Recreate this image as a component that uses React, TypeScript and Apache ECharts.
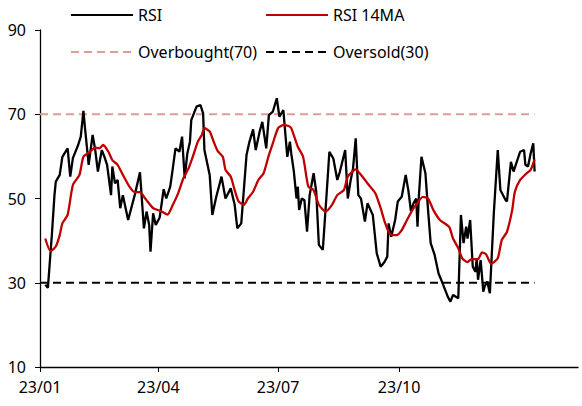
import React, { useEffect, useRef } from "react";
import * as echarts from "echarts";

// x values are calendar-day offsets from 2023-01-01
const tickDays = [0, 90, 181, 273];
const tickLabels = ["23/01", "23/04", "23/07", "23/10"];

const rsiDays = [
  4, 6, 9, 11, 12, 15, 17, 21, 23, 25, 29, 31, 33, 34, 37, 40, 42, 44, 47, 49,
  51, 52, 54, 55, 57, 59, 61, 63, 67, 72, 76, 79, 81, 83, 84, 86, 88, 91, 94, 96,
  99, 101, 103, 106, 108, 110, 112, 114, 115, 119, 122, 124, 125, 129, 131, 134,
  138, 141, 145, 148, 150, 153, 157, 159, 162, 164, 167, 169, 172, 174, 177, 180,
  182, 185, 188, 190, 191, 193, 195, 196, 197, 199, 201, 203, 205, 208, 210, 212, 215,
  218, 220, 223, 226, 228, 232, 234, 236, 238, 240, 242, 244, 247, 249, 253, 256,
  259, 262, 264, 265, 267, 270, 272, 275, 278, 280, 282, 284, 286, 287, 288, 290,
  293, 295, 297, 300, 303, 305, 308, 310, 312, 314, 318, 320, 322, 324, 325, 327,
  329, 331, 332, 333, 335, 337, 338, 340, 342, 345, 348, 350, 354, 355, 358, 360,
  362, 365, 368, 369, 371, 373, 375, 376,
];
const rsiValues = [
  29.5, 28.8, 41.3, 50.8, 54, 55.6, 59.9, 61.9, 55.2, 59.6, 62.7, 64.7, 70.8, 67.4,
  58, 65.1, 61.5, 56.4, 61.5, 59.9, 58, 55.6, 50.8, 57.6, 53.6, 54.4, 47.7, 50.8,
  44.9, 50.8, 56.2, 42.9, 46.9, 43.7, 37.4, 46.5, 43.7, 45.5, 52.2, 50, 52.8, 57.2,
  61.9, 61.1, 64.7, 54.8, 60.7, 63.5, 68.6, 71.8, 72.2, 70.2, 61.5, 55.6, 46.1,
  50.4, 55.2, 50, 52.4, 48.5, 42.9, 44.1, 60.3, 63.2, 66.4, 61.5, 65.9, 68.2, 61.9,
  69.8, 70.6, 73.8, 69.4, 71, 59.9, 63.5, 60.7, 56.4, 50, 52.8, 47.3, 50, 49.6,
  42.1, 50.8, 56, 51.6, 39, 37.8, 51.6, 61.1, 59.5, 54.4, 56.4, 61.5, 50, 54, 57.2,
  64.3, 50.8, 50, 44.5, 48.9, 46.1, 37, 33.8, 35, 36.2, 44.1, 40.9, 44.9, 49.3,
  50.4, 55.6, 52, 47, 48.9, 50, 43.3, 50.4, 59.9, 56, 47.3, 39.4, 36.6, 32.2, 30.7,
  28.3, 26.7, 25.5, 27.1, 26.3, 46.1, 39.4, 43.3, 40.5, 44.9, 33.8, 32.6, 35.8,
  30.7, 35.4, 27.9, 29.1, 30.3, 27.5, 46.5, 61.5, 52, 49.6, 49.3, 58.7, 56.4, 58.3,
  61.1, 61.5, 58, 57.6, 60.7, 63.1, 56.4,
];

const maDays = [
  4, 8, 12, 15, 17, 21, 25, 30, 33, 38, 42, 45, 48, 52, 55, 59, 63, 68, 72, 76, 80,
  86, 92, 97, 101, 105, 109, 113, 117, 120, 123, 125, 129, 132, 135, 139, 141, 145,
  148, 151, 155, 158, 162, 166, 170, 174, 177, 181, 185, 189, 191, 196, 200, 204,
  208, 212, 217, 222, 226, 231, 234, 240, 245, 250, 255, 259, 262, 266, 271, 275,
  279, 284, 286, 291, 295, 299, 304, 311, 314, 318, 321, 325, 328, 333, 336, 339,
  343, 348, 351, 355, 359, 361, 365, 370, 373, 376,
];
const maValues = [
  40.5, 37.5, 38.6, 41.3, 44.1, 46.1, 53.2, 55.6, 59.9, 61.1, 62.1, 61.9, 62.7,
  61.1, 59.1, 58, 55.6, 52.8, 51.5, 51.5, 50, 47.7, 47, 46.2, 48.5, 51.2, 54.8,
  57.2, 60.7, 63.5, 65.1, 66.7, 65.9, 63.5, 61.3, 59.9, 56.8, 55.2, 52, 49.3, 48.5,
  50, 51.6, 54.4, 56, 60.3, 63.1, 66.7, 67.4, 67.2, 66.7, 62.3, 59.9, 52.8, 52,
  48.5, 46.9, 48.5, 50.8, 52, 55.2, 56.9, 55.2, 53.2, 51.2, 47.7, 44.5, 41.6, 41.3,
  42.5, 44.9, 47.7, 48.5, 50.4, 50, 47.3, 44.9, 43.3, 40.5, 38.2, 35.8, 34.9, 35.6,
  35.6, 37.2, 36.8, 34.5, 35.8, 40.1, 42.1, 47.3, 51.6, 54.4, 56, 56.8, 59.3,
];

const overboughtLevel = 70;
const oversoldLevel = 30;
const lineStartDay = 0;
const lineEndDay = 376;

const FONT = "'Noto Sans', 'Open Sans', sans-serif";

export default function App() {
  const ref = useRef<HTMLDivElement>(null);
  useEffect(() => {
    if (!ref.current) return;
    const chart = echarts.init(ref.current, undefined, { renderer: "svg" });
    const zip = (xs: number[], ys: number[]) => xs.map((x, i) => [x, ys[i]]);
    const legendBase = {
      padding: 0,
      itemWidth: 62,
      itemHeight: 14,
      itemGap: 0,
      itemStyle: { opacity: 0 },
      textStyle: { fontSize: 16, color: "#000", fontFamily: FONT },
    };
    chart.setOption({
      animation: false,
      backgroundColor: "#fff",
      textStyle: { fontFamily: FONT },
      legend: [
        { ...legendBase, data: ["RSI"], left: 70, top: 7 },
        { ...legendBase, data: ["RSI 14MA"], left: 265, top: 7 },
        { ...legendBase, data: ["Overbought(70)"], left: 70, top: 44 },
        { ...legendBase, data: ["Oversold(30)"], left: 265, top: 44 },
      ],
      grid: { left: 40, top: 30, right: 4, bottom: 39, containLabel: false },
      xAxis: {
        type: "value",
        min: 0,
        max: 409,
        splitLine: { show: false },
        axisLine: { lineStyle: { color: "#000", width: 1.3 } },
        axisTick: {
          show: true,
          length: 5,
          customValues: tickDays,
          lineStyle: { color: "#000" },
        },
        axisLabel: {
          customValues: tickDays,
          margin: 12,
          fontSize: 16,
          color: "#000",
          fontFamily: FONT,
          formatter: (v: number) => {
            const i = tickDays.indexOf(v);
            return i >= 0 ? tickLabels[i] : "";
          },
        },
      },
      yAxis: {
        type: "value",
        min: 10,
        max: 90,
        interval: 20,
        splitLine: { show: false },
        axisLine: { show: true, lineStyle: { color: "#000", width: 1.3 } },
        axisTick: { show: true, length: 5, lineStyle: { color: "#000" } },
        axisLabel: { margin: 14, fontSize: 16, color: "#000", fontFamily: FONT },
      },
      series: [
        {
          name: "Overbought(70)",
          type: "line",
          symbol: "none",
          data: [
            [lineStartDay, overboughtLevel],
            [lineEndDay, overboughtLevel],
          ],
          color: "#e09b9b",
          lineStyle: { color: "#e09b9b", width: 2, type: [8, 5] },
          z: 1,
        },
        {
          name: "Oversold(30)",
          type: "line",
          symbol: "none",
          data: [
            [lineStartDay, oversoldLevel],
            [lineEndDay, oversoldLevel],
          ],
          color: "#000",
          lineStyle: { color: "#000", width: 2, type: [8, 5] },
          z: 1,
        },
        {
          name: "RSI",
          type: "line",
          symbol: "none",
          data: zip(rsiDays, rsiValues),
          color: "#000",
          lineStyle: { color: "#000", width: 2.3 },
          z: 2,
        },
        {
          name: "RSI 14MA",
          type: "line",
          symbol: "none",
          smooth: 0.2,
          data: zip(maDays, maValues),
          color: "#c00000",
          lineStyle: { color: "#c00000", width: 2.3 },
          z: 3,
        },
      ],
    });
    return () => chart.dispose();
  }, []);
  return (
    <div
      ref={ref}
      style={{ position: "fixed", left: 0, top: 0, width: 582, height: 406, background: "#fff" }}
    />
  );
}
